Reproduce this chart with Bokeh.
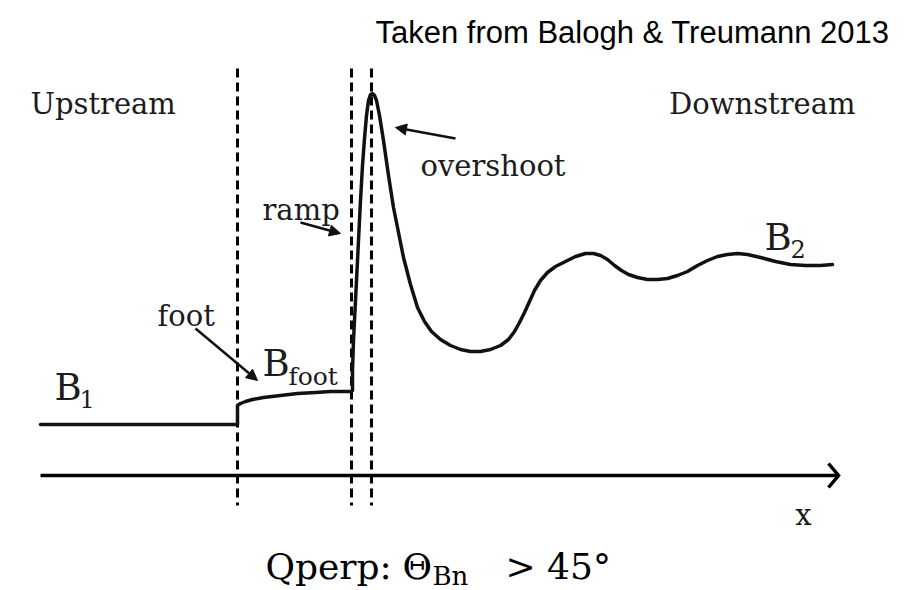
from bokeh.plotting import figure
from bokeh.models import Range1d, Arrow, NormalHead
from bokeh.core.properties import value
from bokeh.embed import file_html
from bokeh.resources import INLINE

# ---- data (schematic field profile across a quasi-perpendicular shock) ----
x_pos = [40, 237, 237, 240, 245, 252, 263, 280, 297, 315,
         330, 350, 352, 352, 353, 355, 357, 360, 362, 364,
         366, 368, 370, 372, 374, 376, 379, 383, 388, 393,
         398, 403, 410, 417, 424, 431, 440, 450, 460, 470,
         480, 490, 500, 508, 514, 519, 524, 529, 534, 540,
         547, 555, 565, 575, 585, 593, 600, 607, 614, 621,
         628, 637, 647, 657, 667, 677, 687, 697, 707, 717,
         727, 737, 747, 760, 775, 790, 805, 820, 832]
B_field = [51, 51, 70, 72, 74, 76, 78, 80, 82, 83,
           84, 84, 85, 105, 135, 175, 215, 275, 310, 337,
           360, 375, 381, 382, 380, 375, 360, 335, 300, 268,
           243, 218, 191, 168, 154, 144, 136, 130, 126, 124,
           124, 126, 130, 136, 144, 153, 163, 174, 185, 195,
           203, 209, 214, 219, 222, 222, 220, 216, 210, 205,
           201, 198, 196, 196, 197, 200, 204, 210, 215, 219,
           221, 222, 221, 218, 214, 211, 210, 210, 211]
boundaries = [237, 351, 371]          # foot start, ramp start, overshoot
region_labels = ["Upstream", "Downstream"]
feature_labels = ["foot", "ramp", "overshoot"]

AX = 475  # row of the x axis (B = 0)
def Y(py):
    return AX - py

W, H = 907, 590
TXT = "#1c1c1c"
SERIF = value("DejaVu Serif")

p = figure(width=W, height=H, x_range=Range1d(0, W), y_range=Range1d(AX - H, AX),
           output_backend="svg", toolbar_location=None, min_border=0)
p.xaxis.visible = False
p.yaxis.visible = False
p.grid.visible = False
p.outline_line_color = None
p.background_fill_color = "white"
p.border_fill_color = "white"

# dashed boundaries
p.segment(x0=boundaries, y0=[Y(68)] * 3, x1=boundaries, y1=[Y(505)] * 3,
          line_color="black", line_width=3, line_dash="9 5")

# x axis with chevron
p.line(x=[40, 838], y=[0, 0], line_color="black", line_width=3.5)
p.line(x=[828, 838, 828], y=[Y(463), 0, Y(487)], line_color="black", line_width=3.5,
       line_join="miter")

# field profile
p.line(x=x_pos, y=B_field, line_color="#111111", line_width=3.5, line_join="round", line_cap="round")

# annotation arrows
for (xs, ys, xe, ye) in [(195, 328, 257, 380), (300, 222, 340, 233), (455, 138, 395, 127)]:
    p.add_layout(Arrow(x_start=xs, y_start=Y(ys), x_end=xe, y_end=Y(ye),
                       line_color="#111111", line_width=2.5,
                       end=NormalHead(size=11, fill_color="#111111", line_color="#111111")))

def txt(x, y, s, size, font=SERIF, align="left", color=TXT):
    p.text(x=[x], y=[Y(y)], text=[s], text_font=font, text_font_size=value(f"{size}px"),
           text_align=align, text_baseline="alphabetic", text_color=color)

# region / feature labels
txt(30, 103, region_labels[0], 29)
txt(855, 103, region_labels[1], 29, align="right")
txt(157, 315, feature_labels[0], 29)
txt(262, 209, feature_labels[1], 29)
txt(420, 165, feature_labels[2], 29)
txt(803, 514, "x", 29, align="center")

# B labels
txt(54, 387, "B", 37)
txt(79, 398, "1", 24)
txt(262, 363, "B", 37)
txt(288, 376, "foot", 25)
txt(764, 237, "B", 37)
txt(790, 248, "2", 24)

# title
txt(375, 32, "Taken from Balogh & Treumann 2013", 31, font=value("Liberation Sans"), color="black")

# bottom caption
txt(265, 566, "Qperp:", 36, color="black")
txt(402, 566, "\u0398", 36, color="black")
txt(432, 575, "Bn", 26, color="black")
txt(505, 566, "> 45\u00b0", 36, color="black")

open("out.html", "w").write(file_html(p, INLINE))
